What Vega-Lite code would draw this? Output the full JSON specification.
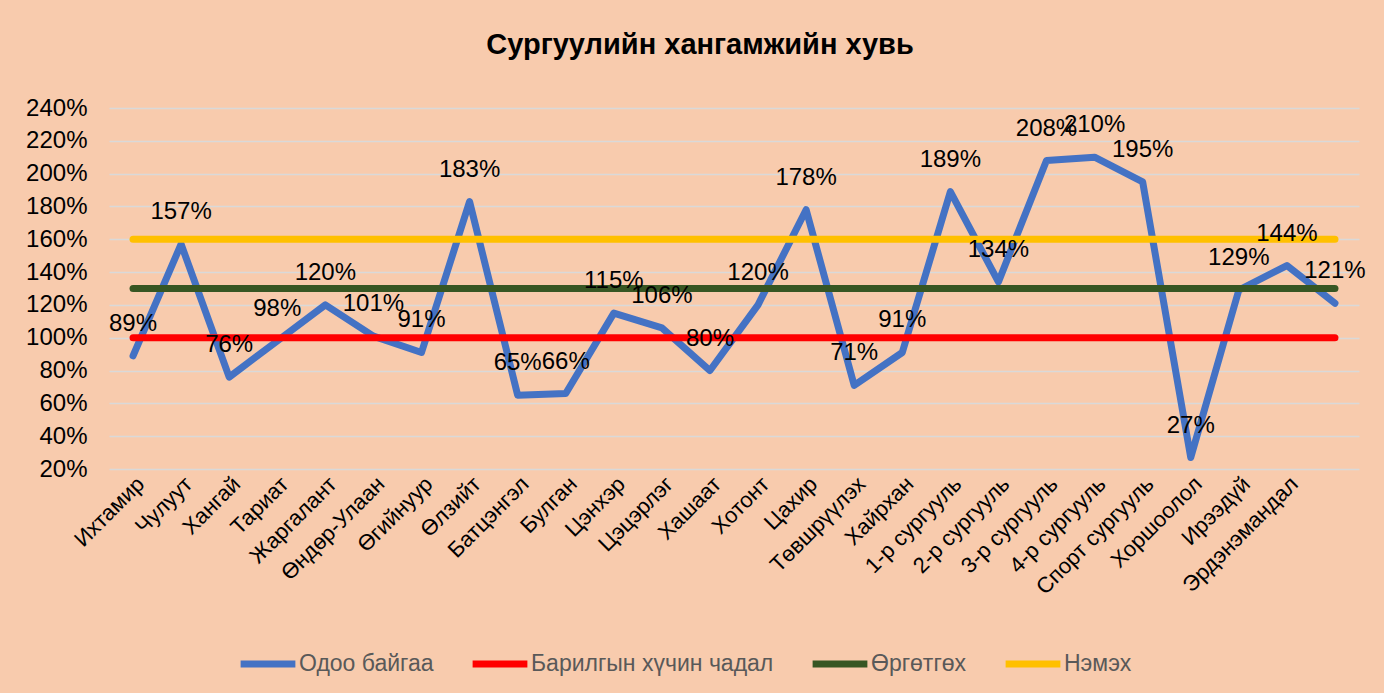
{
  "$schema": "https://vega.github.io/schema/vega-lite/v6.json",
  "width": 1250,
  "height": 361,
  "autosize": "none",
  "padding": {"left": 109, "top": 108, "right": 25, "bottom": 224},
  "background": "#F8CBAD",
  "config": {
    "font": "Liberation Sans",
    "view": {"stroke": null}
  },
  "title": {
    "text": "Сургуулийн хангамжийн хувь",
    "fontSize": 29,
    "fontWeight": "bold",
    "color": "#000000",
    "font": "Liberation Sans",
    "dx": -34,
    "offset": 36
  },
  "data": {
    "values": [
      {"name": "Ихтамир", "Одоо байгаа": 0.89, "Барилгын хүчин чадал": 1.0, "Өргөтгөх": 1.3, "Нэмэх": 1.6},
      {"name": "Чулуут", "Одоо байгаа": 1.57, "Барилгын хүчин чадал": 1.0, "Өргөтгөх": 1.3, "Нэмэх": 1.6},
      {"name": "Хангай", "Одоо байгаа": 0.76, "Барилгын хүчин чадал": 1.0, "Өргөтгөх": 1.3, "Нэмэх": 1.6},
      {"name": "Тариат", "Одоо байгаа": 0.98, "Барилгын хүчин чадал": 1.0, "Өргөтгөх": 1.3, "Нэмэх": 1.6},
      {"name": "Жаргалант", "Одоо байгаа": 1.20, "Барилгын хүчин чадал": 1.0, "Өргөтгөх": 1.3, "Нэмэх": 1.6},
      {"name": "Өндөр-Улаан", "Одоо байгаа": 1.01, "Барилгын хүчин чадал": 1.0, "Өргөтгөх": 1.3, "Нэмэх": 1.6},
      {"name": "Өгийнуур", "Одоо байгаа": 0.91, "Барилгын хүчин чадал": 1.0, "Өргөтгөх": 1.3, "Нэмэх": 1.6},
      {"name": "Өлзийт", "Одоо байгаа": 1.83, "Барилгын хүчин чадал": 1.0, "Өргөтгөх": 1.3, "Нэмэх": 1.6},
      {"name": "Батцэнгэл", "Одоо байгаа": 0.65, "Барилгын хүчин чадал": 1.0, "Өргөтгөх": 1.3, "Нэмэх": 1.6},
      {"name": "Булган", "Одоо байгаа": 0.66, "Барилгын хүчин чадал": 1.0, "Өргөтгөх": 1.3, "Нэмэх": 1.6},
      {"name": "Цэнхэр", "Одоо байгаа": 1.15, "Барилгын хүчин чадал": 1.0, "Өргөтгөх": 1.3, "Нэмэх": 1.6},
      {"name": "Цэцэрлэг", "Одоо байгаа": 1.06, "Барилгын хүчин чадал": 1.0, "Өргөтгөх": 1.3, "Нэмэх": 1.6},
      {"name": "Хашаат", "Одоо байгаа": 0.80, "Барилгын хүчин чадал": 1.0, "Өргөтгөх": 1.3, "Нэмэх": 1.6},
      {"name": "Хотонт", "Одоо байгаа": 1.20, "Барилгын хүчин чадал": 1.0, "Өргөтгөх": 1.3, "Нэмэх": 1.6},
      {"name": "Цахир", "Одоо байгаа": 1.78, "Барилгын хүчин чадал": 1.0, "Өргөтгөх": 1.3, "Нэмэх": 1.6},
      {"name": "Төвшрүүлэх", "Одоо байгаа": 0.71, "Барилгын хүчин чадал": 1.0, "Өргөтгөх": 1.3, "Нэмэх": 1.6},
      {"name": "Хайрхан", "Одоо байгаа": 0.91, "Барилгын хүчин чадал": 1.0, "Өргөтгөх": 1.3, "Нэмэх": 1.6},
      {"name": "1-р сургууль", "Одоо байгаа": 1.89, "Барилгын хүчин чадал": 1.0, "Өргөтгөх": 1.3, "Нэмэх": 1.6},
      {"name": "2-р сургууль", "Одоо байгаа": 1.34, "Барилгын хүчин чадал": 1.0, "Өргөтгөх": 1.3, "Нэмэх": 1.6},
      {"name": "3-р сургууль", "Одоо байгаа": 2.08, "Барилгын хүчин чадал": 1.0, "Өргөтгөх": 1.3, "Нэмэх": 1.6},
      {"name": "4-р сургууль", "Одоо байгаа": 2.10, "Барилгын хүчин чадал": 1.0, "Өргөтгөх": 1.3, "Нэмэх": 1.6},
      {"name": "Спорт сургууль", "Одоо байгаа": 1.95, "Барилгын хүчин чадал": 1.0, "Өргөтгөх": 1.3, "Нэмэх": 1.6},
      {"name": "Хоршоолол", "Одоо байгаа": 0.27, "Барилгын хүчин чадал": 1.0, "Өргөтгөх": 1.3, "Нэмэх": 1.6},
      {"name": "Ирээдүй", "Одоо байгаа": 1.29, "Барилгын хүчин чадал": 1.0, "Өргөтгөх": 1.3, "Нэмэх": 1.6},
      {"name": "Эрдэнэмандал", "Одоо байгаа": 1.44, "Барилгын хүчин чадал": 1.0, "Өргөтгөх": 1.3, "Нэмэх": 1.6},
      {"name": " ", "Одоо байгаа": 1.21, "Барилгын хүчин чадал": 1.0, "Өргөтгөх": 1.3, "Нэмэх": 1.6}
    ]
  },
  "transform": [
    {"fold": ["Одоо байгаа", "Барилгын хүчин чадал", "Өргөтгөх", "Нэмэх"], "as": ["series", "value"]}
  ],
  "encoding": {
    "x": {
      "field": "name",
      "type": "nominal",
      "sort": null,
      "scale": {"type": "point", "padding": 0.5},
      "axis": {
        "title": null,
        "labelAngle": -45,
        "labelAlign": "right",
        "labelBaseline": "top",
        "labelFontSize": 22,
        "labelColor": "#000000",
        "labelPadding": 4,
        "ticks": false,
        "domain": false,
        "grid": false,
        "labelOverlap": false
      }
    },
    "y": {
      "field": "value",
      "type": "quantitative",
      "scale": {"domain": [0.2, 2.4], "nice": false, "zero": false},
      "axis": {
        "title": null,
        "format": ".0%",
        "values": [0.2, 0.4, 0.6, 0.8, 1.0, 1.2, 1.4, 1.6, 1.8, 2.0, 2.2, 2.4],
        "labelFontSize": 24,
        "labelColor": "#000000",
        "labelPadding": 22,
        "ticks": false,
        "domain": false,
        "gridColor": "#D9D9D9",
        "gridWidth": 1.3
      }
    }
  },
  "layer": [
    {
      "mark": {"type": "line", "strokeWidth": 7, "strokeCap": "round", "strokeJoin": "round"},
      "encoding": {
        "color": {
          "field": "series",
          "type": "nominal",
          "scale": {
            "domain": ["Одоо байгаа", "Барилгын хүчин чадал", "Өргөтгөх", "Нэмэх"],
            "range": ["#4472C4", "#FF0000", "#375623", "#FFC000"]
          },
          "legend": {
            "title": null,
            "orient": "none",
            "direction": "horizontal",
            "legendX": 128,
            "legendY": 525,
            "symbolType": "stroke",
            "symbolStrokeWidth": 7,
            "symbolSize": 3000,
            "labelFontSize": 23,
            "labelColor": "#595959",
            "labelOffset": 0,
            "columnPadding": 24,
            "labelLimit": 400
          }
        }
      }
    },
    {
      "transform": [{"filter": "datum.series === 'Одоо байгаа'"}],
      "mark": {"type": "text", "fontSize": 24, "color": "#000000", "dy": -32, "baseline": "middle", "align": "center"},
      "encoding": {
        "text": {"field": "value", "type": "quantitative", "format": ".0%"}
      }
    }
  ]
}
